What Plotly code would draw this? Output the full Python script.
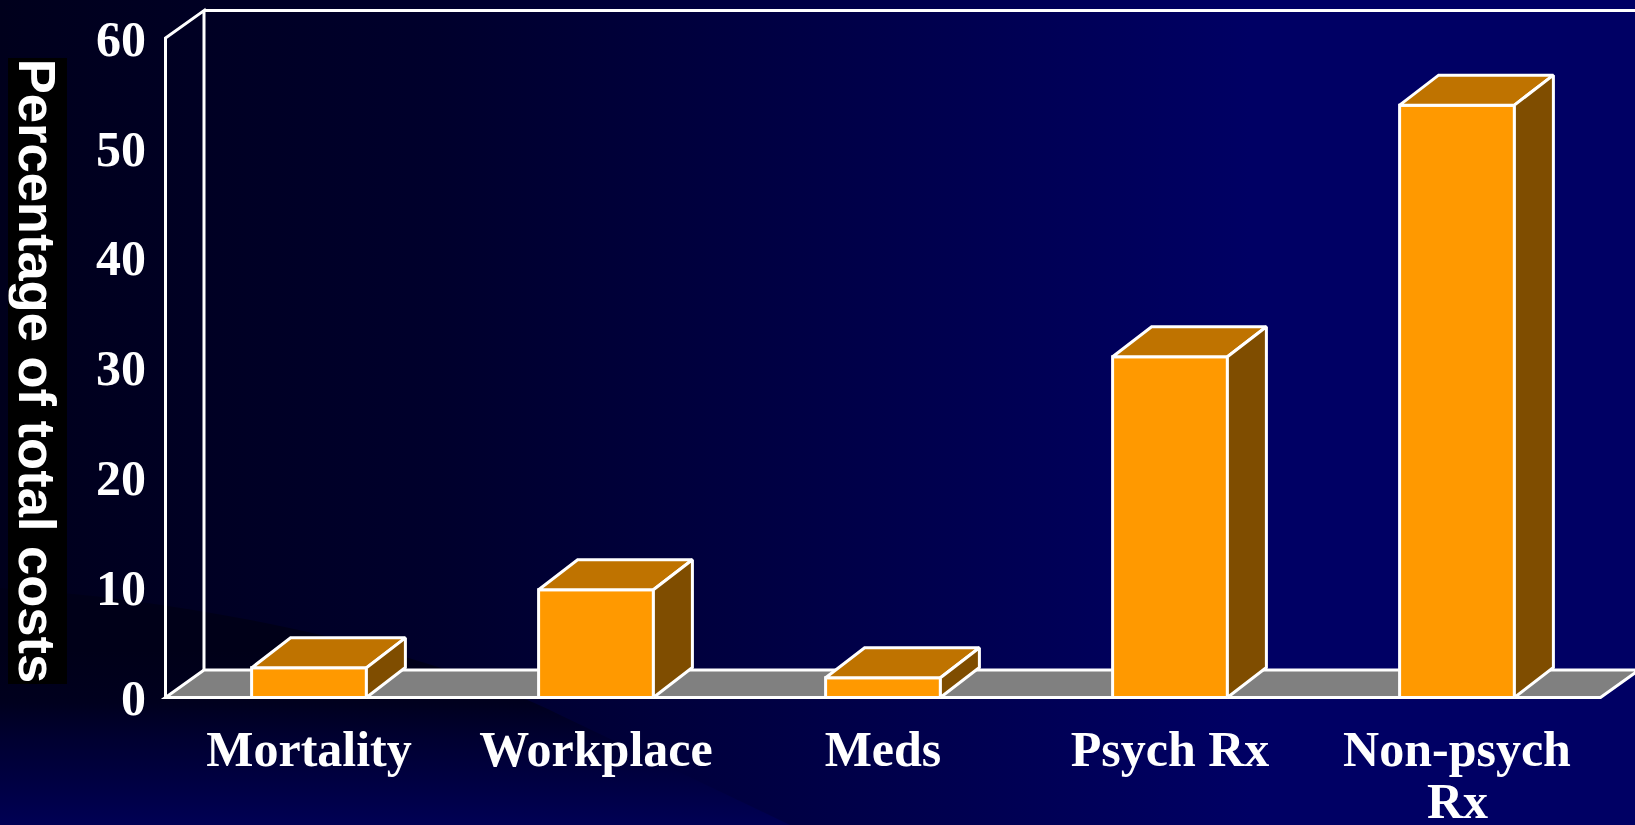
import base64
import plotly.graph_objects as go

# ---- data ----
categories = ["Mortality", "Workplace", "Meds", "Psych Rx", "Non-psych"]
category_second_line = [None, None, None, None, "Rx"]
values = [2.7, 9.8, 1.8, 31.0, 53.9]
y_ticks = [0, 10, 20, 30, 40, 50, 60]
y_title = "Percentage of total costs"

# ---- style ----
W, H = 1635, 825
PX_X = 287.0          # pixels per category
PX_Y = 10.99          # pixels per percent
FLOOR_LEFT = 165.5    # pixel of category-axis start
FLOOR_Y = 697.5       # pixel of value 0
L_MARGIN = 160
BOTTOM_PAD = 5.5
BAR_W = 0.40
BAR_DX, BAR_DY = 39 / PX_X, 30 / PX_Y
WALL_DX, WALL_DY = 38.5 / PX_X, 27.5 / PX_Y
WHITE = "#ffffff"
ORANGE, TOP, SIDE, FLOOR = "#ff9900", "#bf7300", "#7f4d00", "#808080"
LW = 3.0

x_left = -0.5
x_min = x_left - (FLOOR_LEFT - L_MARGIN) / PX_X
x_max = x_left + (W - FLOOR_LEFT) / PX_X
y_min = -BOTTOM_PAD / PX_Y
y_max = FLOOR_Y / PX_Y
x_right = len(categories) - 0.5

plot_w = W - L_MARGIN
plot_h = FLOOR_Y + BOTTOM_PAD

svg = f'''<svg xmlns="http://www.w3.org/2000/svg" width="{W}" height="{H}" viewBox="0 0 {W} {H}">
<defs>
<linearGradient id="a" gradientUnits="userSpaceOnUse" x1="0" y1="0" x2="1250" y2="0">
<stop offset="0" stop-color="#00001c"/><stop offset="0.35" stop-color="#00002c"/><stop offset="1" stop-color="#000064"/>
</linearGradient>
<linearGradient id="b" gradientUnits="userSpaceOnUse" x1="0" y1="650" x2="0" y2="825">
<stop offset="0" stop-color="#000018"/><stop offset="0.3" stop-color="#00001e"/><stop offset="0.5" stop-color="#000030"/><stop offset="1" stop-color="#000054"/>
</linearGradient>
</defs>
<rect width="{W}" height="{H}" fill="url(#a)"/>
<path d="M0 588 C200 600 430 650 560 715 L790 825 L0 825 Z" fill="url(#b)"/>
</svg>'''
bg = "data:image/svg+xml;base64," + base64.b64encode(svg.encode()).decode()

fig = go.Figure()

# front faces
fig.add_trace(go.Bar(
    x=list(range(len(values))), y=values, width=BAR_W,
    marker=dict(color=ORANGE, line=dict(color=WHITE, width=LW)),
    hoverinfo="skip", showlegend=False,
))

# top and side faces derived from the values
tx, ty, sx, sy = [], [], [], []
for i, v in enumerate(values):
    a, b = i - BAR_W / 2, i + BAR_W / 2
    tx += [a, b, b + BAR_DX, a + BAR_DX, a, None]
    ty += [v, v, v + BAR_DY, v + BAR_DY, v, None]
    sx += [b, b + BAR_DX, b + BAR_DX, b, b, None]
    sy += [0, BAR_DY, v + BAR_DY, v, 0, None]
for px, py, col in ((tx, ty, TOP), (sx, sy, SIDE)):
    fig.add_trace(go.Scatter(
        x=px, y=py, mode="lines", fill="toself", fillcolor=col,
        line=dict(color=WHITE, width=LW), hoverinfo="skip", showlegend=False,
    ))

shapes = [
    # floor
    dict(type="path", layer="below", xref="x", yref="y",
         path=f"M{x_left},0 L{x_right},0 L{x_right + WALL_DX},{WALL_DY} L{x_left + WALL_DX},{WALL_DY} Z",
         fillcolor=FLOOR, line=dict(color=WHITE, width=LW)),
    # side wall + top of the back wall
    dict(type="path", layer="below", xref="x", yref="y",
         path=(f"M{x_left},0 L{x_left},60 L{x_left + WALL_DX},{60 + WALL_DY} "
               f"L{x_left + WALL_DX},{WALL_DY}"),
         line=dict(color=WHITE, width=LW)),
    dict(type="line", layer="below", xref="x", yref="y",
         x0=x_left + WALL_DX, x1=x_max, y0=60 + WALL_DY, y1=60 + WALL_DY,
         line=dict(color=WHITE, width=LW)),
]

annotations = [dict(
    text=y_title, textangle=90, xref="paper", yref="paper",
    x=(37 - L_MARGIN) / plot_w, y=1 - 370.5 / plot_h,
    xanchor="center", yanchor="middle", showarrow=False,
    width=625, height=58, align="center", valign="middle", borderpad=0,
    bgcolor="#000000",
    font=dict(family="Liberation Sans", size=52.5, color=WHITE, weight="bold"),
)]
for i, line in enumerate(category_second_line):
    if line:
        annotations.append(dict(
            text=line, x=i, xref="x", yref="paper", y=1 - 801 / plot_h,
            xanchor="center", yanchor="middle", showarrow=False, borderpad=0,
            font=dict(family="Liberation Serif", size=50, color=WHITE, weight="bold"),
        ))

fig.update_layout(
    width=W, height=H,
    margin=dict(l=L_MARGIN, r=0, t=0, b=H - plot_h, pad=0, autoexpand=False),
    paper_bgcolor="#000030", plot_bgcolor="rgba(0,0,0,0)",
    showlegend=False, shapes=shapes,
    images=[dict(source=bg, xref="paper", yref="paper",
                 x=-L_MARGIN / plot_w, y=1, sizex=W / plot_w, sizey=H / plot_h,
                 xanchor="left", yanchor="top", sizing="stretch", layer="below")],
    font=dict(family="Liberation Serif", color=WHITE),
    annotations=annotations,
    xaxis=dict(
        range=[x_min, x_max], tickmode="array",
        tickvals=list(range(len(categories))), ticktext=categories,
        tickfont=dict(size=50, family="Liberation Serif", weight="bold", color=WHITE),
        showgrid=False, zeroline=False, showline=False, ticks="", ticklabelstandoff=12,
        tickangle=0,
    ),
    yaxis=dict(
        range=[y_min, y_max], tickmode="array", tickvals=y_ticks,
        tickfont=dict(size=50, family="Liberation Serif", weight="bold", color=WHITE),
        showgrid=False, zeroline=False, showline=False, ticks="", ticklabelstandoff=13,
    ),
)

fig.write_html("out.html", config={"displayModeBar": False},
               post_script="document.body.style.margin='0';document.body.style.overflow='hidden';")
